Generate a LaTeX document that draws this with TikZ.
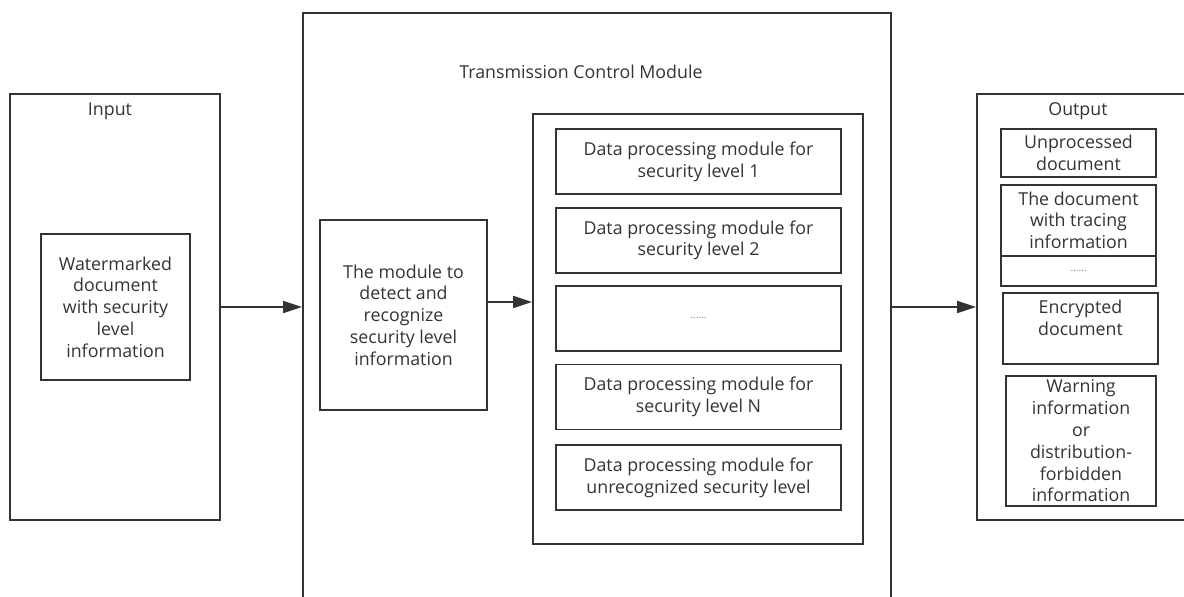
\documentclass[tikz,border=0pt]{standalone}
\usepackage{fontspec}
\setmainfont{Open Sans}
\usetikzlibrary{positioning,arrows.meta}
\definecolor{linegray}{HTML}{333333}
\definecolor{textgray}{HTML}{333333}

\begin{document}
\begin{tikzpicture}[x=1pt,y=-1pt,
  box/.style={draw=linegray,line width=1.8pt,align=center,text=textgray,
    font=\fontsize{17.8}{21.8}\selectfont,inner sep=0pt},
  caption/.style={text=textgray,font=\fontsize{17.8}{21.8}\selectfont},
  flow/.style={draw=linegray,line width=1.8pt,-{Triangle[length=19pt,width=12pt]}},
  dotsbox/.style={box,font=\fontsize{10}{12}\selectfont,text=gray}]
\useasboundingbox (0,0) rectangle (1184,597);
\clip (0,0) rectangle (1184,597);

% outer frames
\node[box, minimum width=210pt, minimum height=426pt] (input) at (115,307) {};
\node[box, minimum width=588pt, minimum height=607pt] (tcm) at (597,316.5) {};
\node[box, minimum width=223pt, minimum height=426pt] (output) at (1088.5,307) {};

\node[caption] (input_lbl) at (110,111) {Input};
\node[caption] (tcm_lbl) at (581,72) {Transmission Control Module};
\node[caption] (output_lbl) at (1078,111) {Output};

% input side
\node[box, minimum width=149pt, minimum height=146pt] (wm) at (115.5,307)
  {Watermarked\\document\\with security\\level\\information};

% transmission control module
\node[box, minimum width=167pt, minimum height=190pt] (detect) at (403.5,315)
  {The module to\\detect and\\recognize\\security level\\information};
\node[box, minimum width=330pt, minimum height=430pt] (inner) at (698,329) {};

\node[box, minimum width=285pt, minimum height=65pt] (lvl_1) at (698.5,161.5)
  {Data processing module for\\security level 1};
\node[box, minimum width=285pt, minimum height=65pt] (lvl_2) [below=12pt of lvl_1]
  {Data processing module for\\security level 2};
\node[dotsbox, minimum width=285pt, minimum height=65pt] (lvl_dots) [below=11pt of lvl_2]
  {......};
\node[box, minimum width=285pt, minimum height=65pt] (lvl_n) [below=12pt of lvl_dots]
  {Data processing module for\\security level N};
\node[box, minimum width=285pt, minimum height=65pt] (lvl_x) [below=14pt of lvl_n]
  {Data processing module for\\unrecognized security level};

% output side
\node[box, minimum width=155pt, minimum height=48pt] (unproc) at (1078.5,153)
  {Unprocessed\\document};
\node[box, minimum width=155pt, minimum height=71pt] (traced) [below=6pt of unproc]
  {The document\\with tracing\\information};
\node[dotsbox, minimum width=155pt, minimum height=30pt] (out_dots) [below=-1.8pt of traced]
  {......};
\node[box, minimum width=155pt, minimum height=71pt] (encrypted) at (1080.5,328.5)
  {Encrypted\\document\\~};
\node[box, minimum width=150pt, minimum height=130pt] (warning) at (1081,441)
  {Warning\\information\\or\\distribution-\\forbidden\\information};

% connectors
\draw[flow] (input.east) -- (input.east -| tcm.west);
\draw[flow] ([yshift=13pt]detect.east) -- ([yshift=13pt]detect.east -| inner.west);
\draw[flow] (output.west -| tcm.east) -- (output.west);
\end{tikzpicture}
\end{document}
